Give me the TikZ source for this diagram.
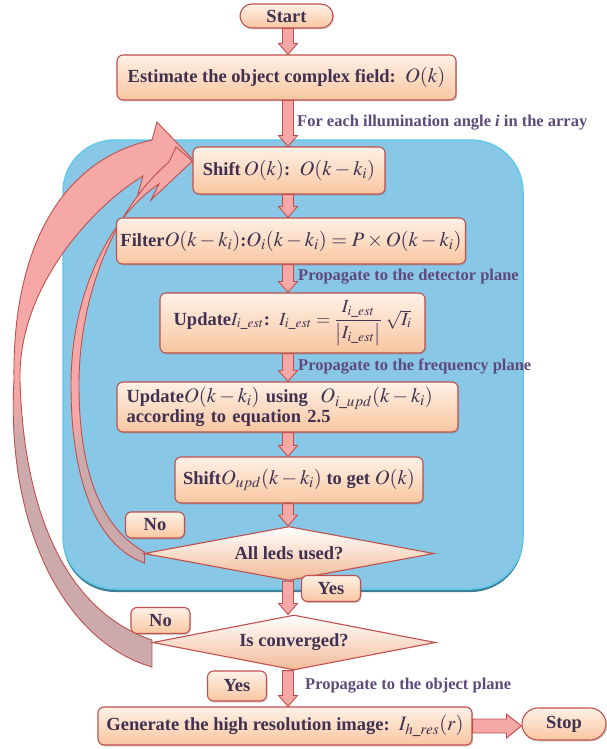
\documentclass[tikz,border=0pt]{standalone}
\usepackage{amsmath}
\usepackage{mathptmx}
\usepackage{fontspec}
\setmainfont{Liberation Serif}
\usetikzlibrary{shapes.geometric, shadows, calc, backgrounds}
\definecolor{fcLine}{HTML}{C0504D}
\definecolor{fcTop}{HTML}{FEF1E6}
\definecolor{fcBot}{HTML}{F9C6A0}
\definecolor{fcArrow}{HTML}{F5A8A6}
\definecolor{fcGrey}{HTML}{CCAAAB}
\definecolor{fcText}{HTML}{3F3151}
\definecolor{fcLabel}{HTML}{5F497A}
\definecolor{fcBlue}{HTML}{89C7E7}
\definecolor{fcBlueEdge}{HTML}{62C9EA}
\definecolor{fcBlueDark}{HTML}{3F7E94}
% pink at the top of the loop arrows, greyish towards their tails
\pgfdeclareverticalshading{loopshadeA}{100bp}{color(0bp)=(fcGrey); color(38bp)=(fcGrey); color(42bp)=(fcArrow); color(100bp)=(fcArrow)}
\pgfdeclareverticalshading{loopshadeB}{100bp}{color(0bp)=(fcGrey); color(46bp)=(fcGrey); color(50bp)=(fcArrow); color(100bp)=(fcArrow)}
\newcommand{\fcfont}{\bfseries\fontsize{18.5}{20}\selectfont}
\newcommand{\fclblfont}{\bfseries\fontsize{16.5}{19}\selectfont}
\newcommand{\fcm}[1]{{\fontsize{20.5}{22}\selectfont$#1$}}
\tikzset{
  box/.style      = {rectangle, rounded corners=6pt, draw=fcLine, line width=1.1pt,
                     top color=fcTop, bottom color=fcBot, text=fcText, font=\fcfont,
                     inner sep=4pt,
                     drop shadow={shadow xshift=1.2pt, shadow yshift=-1.5pt, opacity=0.35}},
  smallbox/.style = {box, minimum width=59pt, minimum height=26pt},
  decision/.style = {diamond, aspect=5.3, draw=fcLine, line width=1.1pt, inner sep=0pt,
                     top color=white, bottom color=fcBot!90!fcLine, text=fcText, font=\fcfont},
  lbl/.style      = {font=\fclblfont, text=fcLabel, inner sep=0pt},
  vblock/.style   = {fill=fcArrow, draw=fcLine, line width=0.9pt,
                     to path={let \p1=(\tikztostart), \p2=(\tikztotarget) in
                       (\x1-5.5pt,\y1) -- (\x1+5.5pt,\y1) -- (\x1+5.5pt,\y2+11pt)
                       -- (\x1+9.5pt,\y2+11pt) -- (\x1,\y2) -- (\x1-9.5pt,\y2+11pt)
                       -- (\x1-5.5pt,\y2+11pt) -- cycle}},
  hblock/.style   = {fill=fcArrow, draw=fcLine, line width=0.9pt,
                     to path={let \p1=(\tikztostart), \p2=(\tikztotarget) in
                       (\x1,\y1+7pt) -- (\x2-15pt,\y1+7pt) -- (\x2-15pt,\y1+12pt)
                       -- (\x2,\y1) -- (\x2-15pt,\y1-12pt) -- (\x2-15pt,\y1-7pt)
                       -- (\x1,\y1-7pt) -- cycle}},
  loopA/.style    = {shading=loopshadeA, draw=fcLine, line width=0.9pt},
  loopB/.style    = {shading=loopshadeB, draw=fcLine, line width=0.9pt},
}
\begin{document}
\begin{tikzpicture}[x=1pt, y=-1pt]
  \useasboundingbox (0,0) rectangle (607,749);
  \coordinate (spine) at (288,0);
  % main column
  \node[box, minimum width=93pt, minimum height=24pt, rounded corners=12pt] (start) at (286.5,16) {Start};
  \node[box, minimum width=339pt, minimum height=45pt] (est) at (286.5,77.5)
    {Estimate the object complex field:\ \ \fcm{O(k)}};
  \node[lbl, anchor=west] (lblangle) at (297,123) {For each illumination angle \textit{i} in the array};
  \node[box, minimum width=192pt, minimum height=47pt] (shift) at (289,170.5)
    {Shift\,\fcm{O(k)}:\ \ \fcm{O(k-k_i)}};
  \node[box, minimum width=348pt, minimum height=46pt] (filter) at (291,241)
    {Filter\fcm{O(k-k_i)}:\fcm{O_i(k-k_i)=P\times O(k-k_i)}};
  \node[lbl, anchor=west] (lbldet) at (298,277) {Propagate to the detector plane};
  \node[box, minimum width=265pt, minimum height=60pt] (updI) at (292.5,323)
    {Update$I_{i\_est}$:\ \ $I_{i\_est}=\dfrac{I_{i\_est}}{\bigl|I_{i\_est}\bigr|}\;\sqrt{I_i}$};
  \node[lbl, anchor=west] (lblfreq) at (298,367) {Propagate to the frequency plane};
  \node[box, minimum width=341pt, minimum height=50pt, text width=322pt, align=left] (updO) at (287.5,407)
    {Update\fcm{O(k-k_i)} using\ \ \fcm{O_{i\_upd}(k-k_i)}\\according to equation 2.5};
  \node[box, minimum width=248pt, minimum height=46pt] (shiftup) at (299,480)
    {Shift\fcm{O_{upd}(k-k_i)} to get \fcm{O(k)}};
  % decisions
  \node[decision, minimum width=290pt, minimum height=54pt] (dia1) at (289,553.5) {All leds used?};
  \node[smallbox] (no1) at (155,525) {No};
  \node[smallbox] (yes1) at (331,588.5) {Yes};
  \node[smallbox] (no2) at (160.5,620.5) {No};
  \node[decision, minimum width=283pt, minimum height=55pt] (dia2) at (294,642.5) {Is converged?};
  \node[smallbox, minimum height=30pt] (yes2) at (237,686) {Yes};
  \node[lbl, anchor=west] (lblobj) at (305,686) {Propagate to the object plane};
  \node[box, minimum width=374pt, minimum height=38pt] (gen) at (285,726)
    {Generate the high resolution image:\ \ \fcm{I_{h\_res}(r)}};
  \node[box, minimum width=84pt, minimum height=32pt, rounded corners=16pt] (stop) at (564,724) {Stop};
  % block arrows
  \draw[vblock] (spine |- start.south) to (spine |- est.north);
  \draw[vblock] (spine |- est.south) to (spine |- shift.north);
  \draw[vblock] (spine |- shift.south) to (spine |- filter.north);
  \draw[vblock] (spine |- filter.south) to (spine |- updI.north);
  \draw[vblock] (spine |- updI.south) to (spine |- updO.north);
  \draw[vblock] (spine |- updO.south) to (spine |- shiftup.north);
  \draw[vblock] (spine |- shiftup.south) to (spine |- dia1.north);
  \draw[vblock] (spine |- dia1.south) to (spine |- dia2.north);
  \draw[vblock] (spine |- dia2.south) to (spine |- gen.north);
  \draw[hblock] (gen.east) to (gen.east -| stop.west);
  % loop region and the two return arrows
  \begin{pgfonlayer}{background}
    \fill[fcBlueDark, rounded corners=52pt] (63,143) rectangle (523,592);
    \draw[fcBlueEdge, fill=fcBlue, line width=1.5pt, rounded corners=52pt] (63,140) rectangle (523,589);
    \shadedraw[loopB] ($(dia2.west)+(0,-2.5)$) .. controls (70,612) and (24,520) .. (20,380)
      .. controls (18,285) and (95,205) .. (143,176) -- (138,194) -- ($(shift.west)+(-1,-12.5)$)
      -- (157,122) -- (152,140) .. controls (60,160) and (12,250) .. (14,380)
      .. controls (6,520) and (60,640) .. ($(dia2.west)+(0,24.5)$) -- cycle;
    \shadedraw[loopA] ($(dia1.west)+(1,-1.5)$) .. controls (100,527) and (79,470) .. (79,385)
      .. controls (79,290) and (118,205) .. (169,162) -- (176,147) -- ($(shift.west)+(0,-9.5)$)
      -- (151,200) -- (159,184) .. controls (112,215) and (71,290) .. (71,385)
      .. controls (71,478) and (95,545) .. ($(dia1.west)+(1,9.5)$) -- cycle;
  \end{pgfonlayer}
\end{tikzpicture}
\end{document}
